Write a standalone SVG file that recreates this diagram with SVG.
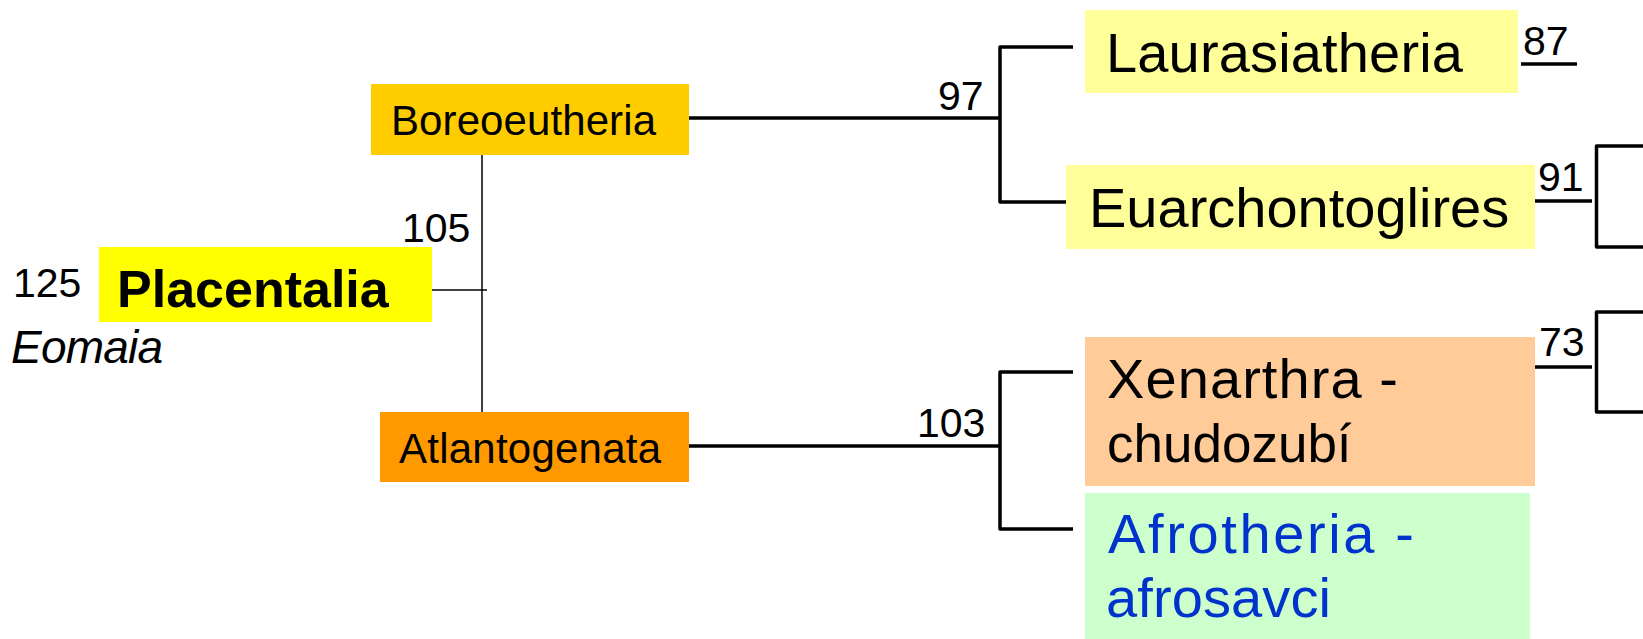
<svg xmlns="http://www.w3.org/2000/svg" width="1643" height="639" viewBox="0 0 1643 639">
<style>
.num{font-family:"Liberation Sans",Arial,sans-serif;font-size:41px;fill:#000}
.lbl{font-family:"Liberation Sans",Arial,sans-serif;font-size:42px;fill:#000}
.cm{font-family:"Liberation Sans",Arial,sans-serif;font-size:56px;fill:#000}
.blue{fill:#0033CC}
.thick{fill:none;stroke:#000;stroke-width:3.5;stroke-linejoin:round}
.thin{fill:none;stroke:#000;stroke-width:1.5}
</style>
<rect width="1643" height="639" fill="#fff"/>
<g id="connectors">
<path class="thin" d="M432,290 H487"/>
<path class="thin" d="M482,155 V412"/>
<path class="thick" d="M689,118 H1000"/>
<path class="thick" d="M1073,47 H1000 V202 H1066"/>
<path class="thick" d="M689,446 H1000"/>
<path class="thick" d="M1073,372 H1000 V529 H1073"/>
<path class="thick" d="M1521,64 H1577"/>
<path class="thick" d="M1535,201 H1592"/>
<path class="thick" d="M1643,146 H1596.5 V247 H1643"/>
<path class="thick" d="M1535,367 H1592"/>
<path class="thick" d="M1643,312 H1596.5 V412 H1643"/>
</g>
<g id="labels">
<text class="num" x="13" y="297">125</text>
<text class="num" x="402" y="242">105</text>
<text class="num" x="938" y="110">97</text>
<text class="num" x="917" y="437">103</text>
<text class="num" x="1523" y="55">87</text>
<text class="num" x="1538" y="191">91</text>
<text class="num" x="1539" y="356">73</text>
<text class="cm" x="11" y="363" style="font-style:italic;font-size:46px" textLength="152">Eomaia</text>
</g>
<g id="placentalia">
<rect x="99" y="247" width="333" height="75" fill="#FFFF00"/>
<text class="cm" x="117" y="307" style="font-weight:bold;font-size:52px">Placentalia</text>
</g>
<g id="boreoeutheria">
<rect x="371" y="84" width="318" height="71" fill="#FFCC00"/>
<text class="lbl" x="391" y="135" textLength="265">Boreoeutheria</text>
</g>
<g id="atlantogenata">
<rect x="380" y="412" width="309" height="70" fill="#FF9900"/>
<text class="lbl" x="399" y="463" textLength="262">Atlantogenata</text>
</g>
<g id="laurasiatheria">
<rect x="1085" y="10" width="433" height="83" fill="#FFFF99"/>
<text class="cm" x="1106" y="72" textLength="357">Laurasiatheria</text>
</g>
<g id="euarchontoglires">
<rect x="1066" y="165" width="469" height="84" fill="#FFFF99"/>
<text class="cm" x="1089" y="227">Euarchontoglires</text>
</g>
<g id="xenarthra">
<rect x="1085" y="337" width="450" height="149" fill="#FFCC99"/>
<text class="cm" x="1107" y="398" textLength="291">Xenarthra -</text>
<text class="cm" x="1107" y="462" style="font-size:53px">chudozubí</text>
</g>
<g id="afrotheria">
<rect x="1085" y="493" width="445" height="146" fill="#CCFFCC"/>
<text class="cm blue" x="1108" y="553" textLength="306">Afrotheria -</text>
<text class="cm blue" x="1106" y="617" textLength="225">afrosavci</text>
</g>
</svg>
